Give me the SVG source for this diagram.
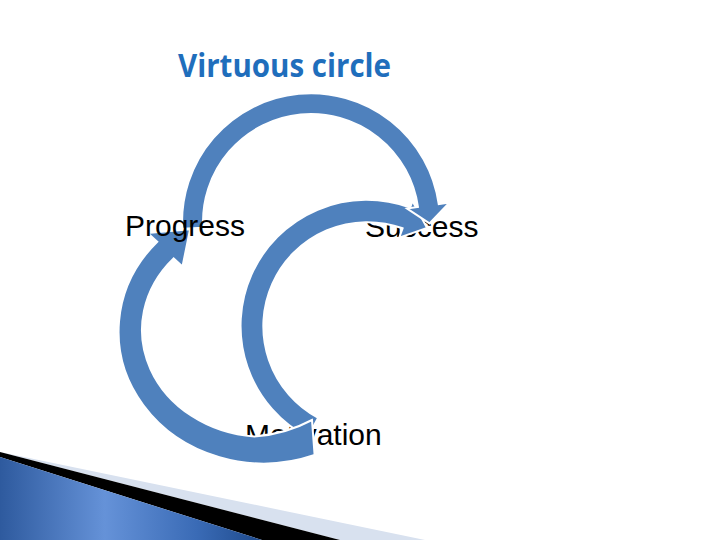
<svg xmlns="http://www.w3.org/2000/svg" width="720" height="540" viewBox="0 0 720 540">
  <defs>
    <style>
      .lbl { font-family: "Liberation Sans", Arial, sans-serif; font-size: 30px; fill: #000000; }
      .title { font-family: "Open Sans", "Liberation Sans", sans-serif; font-size: 33px; font-weight: bold; fill: #1F6EBC; }
      .arrow { fill: #4F81BD; stroke: #FFFFFF; stroke-width: 2; stroke-linejoin: miter; }
    </style>
    <linearGradient id="blueBand" x1="0" y1="0" x2="1" y2="0">
      <stop offset="0" stop-color="#2E5A9E"/>
      <stop offset="0.4" stop-color="#6592D8"/>
      <stop offset="0.75" stop-color="#3A6BB6"/>
      <stop offset="1" stop-color="#1E4A8C"/>
    </linearGradient>
  </defs>
  <rect x="0" y="0" width="720" height="540" fill="#FFFFFF"/>

  <g id="decoration">
    <polygon points="0,452 425,540 340,540" fill="#D8E1EF"/>
    <polygon points="0,452 340,540 262,540 0,457" fill="#000000"/>
    <polygon points="0,457 262,540 0,540" fill="url(#blueBand)"/>
  </g>

  <g id="title">
    <text class="title" x="178" y="77" textLength="213" lengthAdjust="spacingAndGlyphs">Virtuous circle</text>
  </g>

  <g id="node-motivation">
    <text class="lbl" x="245" y="445">Motivation</text>
  </g>
  <g id="node-success">
    <text class="lbl" x="365" y="237">Success</text>
  </g>

  <g id="connectors">
    <path id="arrow-motivation-success" class="arrow" d="M307.8,437.3 A126,126 0 0 1 410.1,207.6 L412.5,201 L427.1,228 L399.2,237.7 L402.6,228.3 A104,104 0 0 0 318.2,417.8 Z"/>
    <path id="arrow-motivation-progress" class="arrow" d="M314.6,455 A145,132 0 0 1 157.25,241.7 L147.6,233 L190.1,229.3 L182.5,266.4 L173.6,258.4 A123,107 0 0 0 254.3,436.6 Q286,434 312,420 Z"/>
    <path id="arrow-progress-success" class="arrow" d="M182.2,228.7 A129,129 0 0 1 438.75,204.04 L449.6,202.5 L429.5,223.4 L407.1,208.5 L417.95,206.97 A108,108 0 0 0 203.15,227.65 Z"/>
  </g>

  <g id="node-progress">
    <text class="lbl" x="125" y="236">Progress</text>
  </g>
</svg>
